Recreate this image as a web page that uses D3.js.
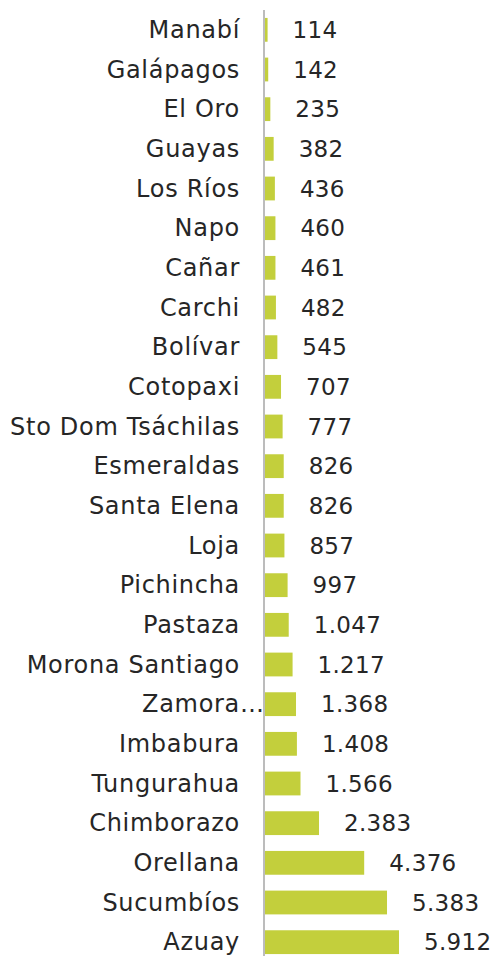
<!DOCTYPE html>
<html><head><meta charset="utf-8">
<script src="https://cdn.jsdelivr.net/npm/d3@7"></script>
<style>html,body{margin:0;padding:0;background:#fff;}svg{display:block;}</style>
</head><body>
<svg id="chart" width="492" height="956"></svg>
<script>
const categories = ["Manabí","Galápagos","El Oro","Guayas","Los Ríos","Napo","Cañar","Carchi","Bolívar","Cotopaxi","Sto Dom Tsáchilas","Esmeraldas","Santa Elena","Loja","Pichincha","Pastaza","Morona Santiago","Zamora…","Imbabura","Tungurahua","Chimborazo","Orellana","Sucumbíos","Azuay"];
const values = [114,142,235,382,436,460,461,482,545,707,777,826,826,857,997,1047,1217,1368,1408,1566,2383,4376,5383,5912];

const svg = d3.select("#chart");
const fmt = d3.formatLocale({decimal:",", thousands:".", grouping:[3], currency:["$",""]}).format(",d");
const y = d3.scaleBand().domain(categories).range([10, 962]).paddingInner(0.4).paddingOuter(0.2);
const x = d3.scaleLinear().domain([0, 6000]).range([265, 401]);
const font = "'DejaVu Sans', sans-serif";

svg.selectAll("rect.bar").data(values).join("rect")
  .attr("class","bar")
  .attr("x", x(0))
  .attr("y", (d,i)=>y(categories[i]))
  .attr("width", d=>x(d)-x(0))
  .attr("height", y.bandwidth())
  .attr("fill", "#c3cf3c");

svg.append("line").attr("x1",264).attr("x2",264).attr("y1",10).attr("y2",962)
  .attr("stroke","#a6a6a6").attr("stroke-width",1.5);

svg.selectAll("text.cat").data(categories).join("text")
  .attr("class","cat")
  .attr("x", 240)
  .attr("y", d=>y(d)+y.bandwidth()/2)
  .attr("text-anchor","end")
  .attr("dominant-baseline","central")
  .style("font-family", font).style("font-size","24px").style("letter-spacing","0.7px")
  .attr("fill","#262626")
  .text(d=>d.endsWith("…") ? d.slice(0,-1) : d);

svg.selectAll("text.ell").data(categories.filter(d=>d.endsWith("…"))).join("text")
  .attr("class","ell")
  .attr("x", 240)
  .attr("y", d=>y(d)+y.bandwidth()/2)
  .attr("text-anchor","start")
  .attr("dominant-baseline","central")
  .style("font-family", font).style("font-size","24px")
  .attr("fill","#262626")
  .text("…");

svg.selectAll("text.val").data(values).join("text")
  .attr("class","val")
  .attr("x", d=>x(d)+25)
  .attr("y", (d,i)=>y(categories[i])+y.bandwidth()/2)
  .attr("text-anchor","start")
  .attr("dominant-baseline","central")
  .style("font-family", font).style("font-size","23px").style("letter-spacing","0.3px")
  .attr("fill","#262626")
  .text(d=>fmt(d));
</script>
</body></html>
